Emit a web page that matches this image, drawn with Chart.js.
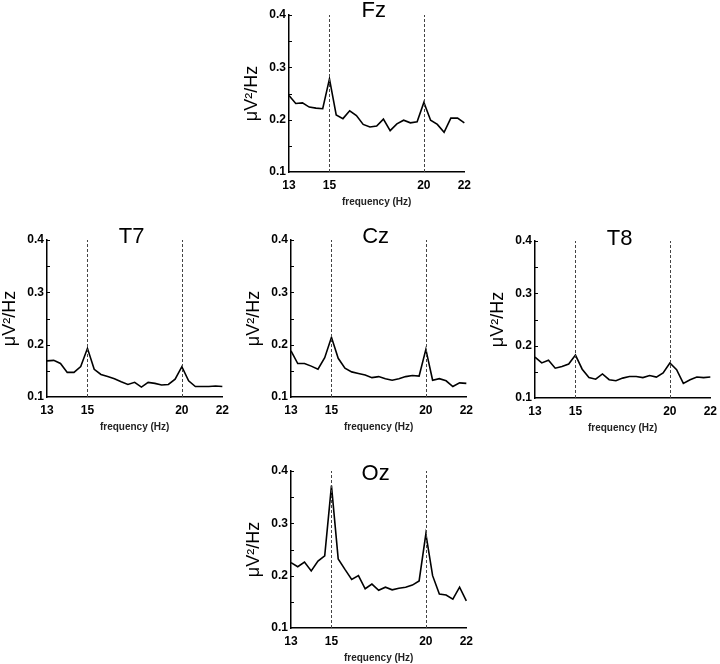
<!DOCTYPE html>
<html>
<head>
<meta charset="utf-8">
<script src="https://cdn.jsdelivr.net/npm/chart.js@4"></script>
<style>
  html, body { margin: 0; padding: 0; background: #fff; overflow: hidden; }
  body { width: 720px; height: 664px; position: relative; }
  canvas { position: absolute; }
</style>
</head>
<body>
<canvas id="fz" width="240" height="212"></canvas>
<canvas id="t7" width="240" height="212"></canvas>
<canvas id="cz" width="240" height="212"></canvas>
<canvas id="t8" width="240" height="212"></canvas>
<canvas id="oz" width="240" height="212"></canvas>
<script>
// frequency bins, only some of them labelled on the x axis
const binLabels = ["13", "", "", "", "", "", "15", "", "", "", "", "", "", "", "", "", "", "", "", "", "20", "", "", "", "", "", "22"];
const markerLabels = ["15", "20"];
const yTicks = [0.1, 0.2, 0.3, 0.4];

const fzValues = [0.246, 0.231, 0.232, 0.224, 0.222, 0.221, 0.278, 0.209, 0.202, 0.217, 0.208, 0.191, 0.186, 0.188, 0.201, 0.179, 0.192, 0.199, 0.194, 0.196, 0.233, 0.199, 0.191, 0.176, 0.203, 0.203, 0.194];
const t7Values = [0.169, 0.170, 0.164, 0.147, 0.147, 0.158, 0.193, 0.153, 0.143, 0.139, 0.135, 0.129, 0.124, 0.128, 0.119, 0.128, 0.126, 0.123, 0.124, 0.134, 0.158, 0.131, 0.120, 0.120, 0.120, 0.121, 0.120];
const czValues = [0.188, 0.164, 0.164, 0.159, 0.153, 0.175, 0.214, 0.174, 0.155, 0.148, 0.145, 0.142, 0.137, 0.139, 0.135, 0.132, 0.135, 0.139, 0.141, 0.140, 0.191, 0.132, 0.135, 0.131, 0.120, 0.127, 0.126];
const t8Values = [0.178, 0.167, 0.172, 0.157, 0.160, 0.165, 0.182, 0.155, 0.139, 0.136, 0.146, 0.135, 0.133, 0.138, 0.141, 0.141, 0.139, 0.143, 0.140, 0.148, 0.167, 0.154, 0.128, 0.135, 0.140, 0.139, 0.140];
const ozValues = [0.225, 0.217, 0.226, 0.209, 0.228, 0.238, 0.372, 0.232, 0.212, 0.193, 0.200, 0.175, 0.184, 0.172, 0.178, 0.173, 0.176, 0.178, 0.182, 0.190, 0.280, 0.200, 0.165, 0.163, 0.155, 0.178, 0.152];

// where each panel sits on the page and where its title baseline goes
const panels = [
    { id: "fz", name: "Fz", values: fzValues, left: 237, top: 0, titleDy: 2 },
    { id: "t7", name: "T7", values: t7Values, left: -5, top: 225, titleDy: 3 },
    { id: "cz", name: "Cz", values: czValues, left: 239, top: 225, titleDy: 3 },
    { id: "t8", name: "T8", values: t8Values, left: 483, top: 226, titleDy: 4 },
    { id: "oz", name: "Oz", values: ozValues, left: 239, top: 456, titleDy: 9 },
];

const FONT = '"Liberation Sans", Arial, sans-serif';

// dashed markers at 15 and 20 Hz, inward y ticks and the electrode name
const panelDecor = {
    id: "panelDecor",
    afterDatasetsDraw(chart, args, opts) {
        const { ctx, chartArea } = chart;
        const x = chart.scales.x;
        const y = chart.scales.y;
        ctx.save();
        ctx.strokeStyle = "#444";
        ctx.lineWidth = 1;
        ctx.setLineDash([3, 2]);
        markerLabels.forEach((lab) => {
            const px = Math.round(x.getPixelForValue(binLabels.indexOf(lab))) + 0.5;
            ctx.beginPath();
            ctx.moveTo(px, chartArea.bottom);
            ctx.lineTo(px, chartArea.top);
            ctx.stroke();
        });
        ctx.setLineDash([]);
        ctx.strokeStyle = "#000";
        for (let v = 0.15; v < 0.4; v += 0.05) {
            const py = Math.round(y.getPixelForValue(v)) + 0.5;
            ctx.beginPath();
            ctx.moveTo(chartArea.left, py);
            ctx.lineTo(chartArea.left + 3, py);
            ctx.stroke();
        }
        ctx.fillStyle = "#000";
        ctx.font = "22px " + FONT;
        ctx.textAlign = "center";
        ctx.textBaseline = "alphabetic";
        ctx.fillText(opts.text, (chartArea.left + chartArea.right) / 2 - 3, chartArea.top + opts.dy);
        ctx.restore();
    },
};

panels.forEach((p) => {
    const el = document.getElementById(p.id);
    el.style.left = p.left + "px";
    el.style.top = p.top + "px";
    new Chart(el, {
        type: "line",
        data: {
            labels: binLabels,
            datasets: [
                {
                    data: p.values,
                    borderColor: "#000",
                    borderWidth: 1.6,
                    pointRadius: 0,
                    tension: 0,
                    fill: false,
                },
            ],
        },
        options: {
            responsive: false,
            animation: false,
            events: [],
            layout: { padding: { top: 15, right: 12, left: 0, bottom: 0 } },
            plugins: {
                legend: { display: false },
                tooltip: { enabled: false },
                panelDecor: { text: p.name, dy: p.titleDy },
            },
            scales: {
                x: {
                    offset: false,
                    afterFit: (s) => { s.height = 40; },
                    grid: { display: false, drawTicks: false },
                    border: { display: true, color: "#000", width: 1.5 },
                    ticks: {
                        autoSkip: false,
                        maxRotation: 0,
                        padding: 6,
                        color: "#000",
                        font: { family: FONT, size: 12, weight: "bold" },
                        callback: (val, i) => binLabels[i],
                    },
                    title: {
                        display: true,
                        text: "frequency (Hz)",
                        color: "#222",
                        font: { family: FONT, size: 10, weight: "bold" },
                        padding: { top: 0, bottom: 4 },
                    },
                },
                y: {
                    min: 0.1,
                    max: 0.4,
                    afterFit: (s) => { s.width = 52; },
                    afterBuildTicks: (s) => { s.ticks = yTicks.map((v) => ({ value: v })); },
                    grid: { display: false, drawTicks: false },
                    border: { display: true, color: "#000", width: 1.5 },
                    ticks: {
                        padding: 3,
                        color: "#000",
                        font: { family: FONT, size: 12, weight: "bold" },
                        callback: (v) => Number(v).toFixed(1),
                    },
                    title: {
                        display: true,
                        text: "μV²/Hz",
                        color: "#000",
                        font: { family: FONT, size: 18 },
                        padding: { top: 4, bottom: 0 },
                    },
                },
            },
        },
        plugins: [panelDecor],
    });
});
</script>
</body>
</html>
